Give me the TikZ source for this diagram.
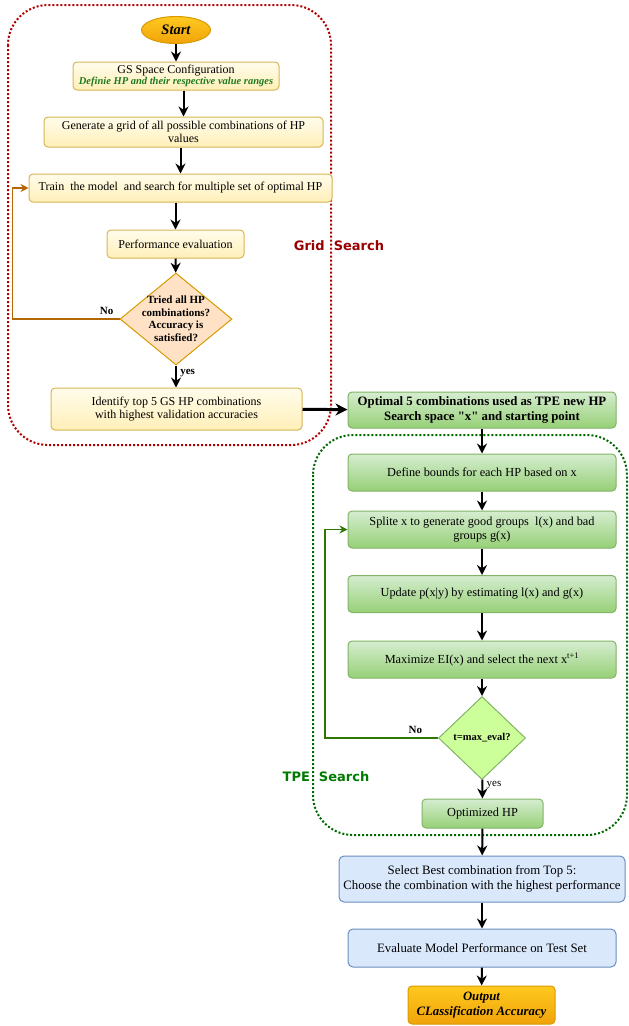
\documentclass[tikz,border=0pt]{standalone}
\usepackage{fontspec}
\setmainfont{Liberation Serif}
\newfontfamily\tagfont{DejaVu Sans}
\usetikzlibrary{shapes.geometric,arrows.meta}
\definecolor{gsline}{HTML}{D6B656}
\definecolor{gstop}{HTML}{FFFCEB}
\definecolor{gsbot}{HTML}{FFEFB8}
\definecolor{gold}{HTML}{FFC91F}
\definecolor{amber}{HTML}{F0A30A}
\definecolor{amberline}{HTML}{D79B00}
\definecolor{peach}{HTML}{FFE2C6}
\definecolor{rust}{HTML}{B46504}
\definecolor{crimson}{HTML}{B20000}
\definecolor{maroon}{HTML}{990000}
\definecolor{leaftop}{HTML}{D5EDD0}
\definecolor{leafbot}{HTML}{97D077}
\definecolor{leafline}{HTML}{82B366}
\definecolor{lime}{HTML}{CCFF99}
\definecolor{forest}{HTML}{2D7600}
\definecolor{pine}{HTML}{006600}
\definecolor{tpetext}{HTML}{007A00}
\definecolor{skyfill}{HTML}{DAE8FC}
\definecolor{skyline}{HTML}{6C8EBF}
\definecolor{hintgreen}{HTML}{1E7B1E}

\tikzset{
  boxtext/.style={font=\fontsize{12}{13.5}\selectfont, align=center, inner sep=1},
  gsbox/.style={boxtext, draw=gsline, top color=gstop, bottom color=gsbot, rounded corners=4, line width=1},
  tpebox/.style={boxtext, draw=leafline, top color=leaftop, bottom color=leafbot, rounded corners=4, line width=1, font=\fontsize{12.3}{14}\selectfont},
  endbox/.style={boxtext, draw=skyline, fill=skyfill, rounded corners=5, line width=1, font=\fontsize{12.8}{14.5}\selectfont},
  goldbox/.style={boxtext, draw=amberline, top color=gold, bottom color=amber, line width=1, font=\fontsize{12.8}{14.5}\selectfont\bfseries\itshape},
  decision/.style={diamond, draw, line width=1, inner sep=0},
  frame/.style={dotted, line width=2, rounded corners=40},
  flow/.style={-{Stealth[length=10,width=10]}, line width=2},
  tag/.style={font=\tagfont\bfseries\fontsize{13}{15}\selectfont},
}

\begin{document}
\begin{tikzpicture}[x=1pt,y=-1pt]
\useasboundingbox (0,0) rectangle (629,1026);

% containers
\draw[frame, crimson] (8,5) rectangle (331,445);
\draw[frame, pine]    (313,435) rectangle (627,835);
\node[tag, maroon]  (gslabel)  at (339,246) {Grid~~Search};
\node[tag, tpetext] (tpelabel) at (326,777) {TPE~~Search};

% grid search
\node[goldbox, ellipse, minimum width=69, minimum height=27, font=\fontsize{14.5}{16}\selectfont\bfseries\itshape] (start) at (176,30) {Start};
\node[gsbox, minimum width=206, minimum height=28] (gsconf) at (176,76) {GS Space Configuration\\[-2pt]{\color{hintgreen}\fontsize{10.5}{11}\selectfont\bfseries\itshape Definie HP and their respective value ranges}};
\node[gsbox, minimum width=279, minimum height=30] (grid) at (183.5,132) {Generate a grid of all possible combinations of HP\\values};
\node[gsbox, minimum width=303, minimum height=28] (train) at (180.5,188) {Train~ the model~ and search for multiple set of optimal HP};
\node[gsbox, minimum width=137, minimum height=28] (perf) at (175.5,244) {Performance evaluation};
\node[decision, draw=amberline, fill=peach, minimum width=112, minimum height=92,
      label={[boxtext, font=\fontsize{11}{12.5}\selectfont\bfseries]center:Tried all HP\\combinations?\\Accuracy is\\satisfied?}] (check) at (176,319) {};
\node[gsbox, minimum width=251, minimum height=42] (top5) at (176.5,409) {Identify top 5 GS HP combinations\\with highest validation accuracies};

% tpe search
\node[tpebox, minimum width=268, minimum height=36, font=\fontsize{12.8}{14.5}\selectfont\bfseries] (optimal) at (482,410) {Optimal 5 combinations used as TPE new HP\\Search space \textquotedbl x\textquotedbl{} and starting point};
\node[tpebox, minimum width=268, minimum height=37] (bounds) at (482,472.5) {Define bounds for each HP based on x};
\node[tpebox, minimum width=268, minimum height=37] (splite) at (482,529.5) {Splite x to generate good groups~ l(x) and bad\\groups g(x)};
\node[tpebox, minimum width=268, minimum height=37] (update) at (482,594) {Update p(x|y) by estimating l(x) and g(x)};
\node[tpebox, minimum width=268, minimum height=37] (maxei) at (482,659.5) {Maximize EI(x) and select the next x\textsuperscript{t+1}};
\node[decision, draw=leafline, fill=lime, minimum width=87, minimum height=83,
      label={[boxtext, font=\fontsize{10.5}{12}\selectfont\bfseries]center:t=max\_eval?}] (tcheck) at (482,738) {};
\node[tpebox, minimum width=121, minimum height=29] (optimized) at (482.5,813.5) {Optimized HP};

% final steps
\node[endbox, minimum width=286, minimum height=46] (select) at (482,879) {Select Best combination from Top 5:\\Choose the combination with the highest performance};
\node[endbox, minimum width=268, minimum height=38] (evaluate) at (482,948) {Evaluate Model Performance on Test Set};
\node[goldbox, rounded corners=4, minimum width=147, minimum height=38] (output) at (481.5,1005) {Output\\CLassification Accuracy};

% connectors
\draw[flow] (start) -- (gsconf);
\draw[flow] (gsconf.south -| grid) -- (grid);
\draw[flow] (grid.south -| train) -- (train);
\draw[flow] (train.south -| perf) -- (perf);
\draw[flow] (perf) -- (check);
\draw[flow] (check) -- node[pos=0.35, right, font=\fontsize{11}{12}\selectfont\bfseries] {yes} (top5.north -| check);
\draw[-{Stealth[length=8,width=8]}, line width=1.5, rust] (check.west) -- node[pos=0.12, above, black, font=\fontsize{11}{12}\selectfont\bfseries] {No} ++(-107,0) |- (train.west);
\draw[-{Stealth[length=12,width=12]}, line width=3] (top5) -- (optimal);
\draw[flow] (optimal) -- (bounds);
\draw[flow] (bounds) -- (splite);
\draw[flow] (splite) -- (update);
\draw[flow] (update) -- (maxei);
\draw[flow] (maxei) -- (tcheck);
\draw[flow] (tcheck) -- node[pos=0.3, right, font=\fontsize{11}{12}\selectfont] {yes} (optimized);
\draw[-{Stealth[length=8,width=8]}, line width=1.5, forest] (tcheck.west) -- node[pos=0.2, above, black, font=\fontsize{11}{12}\selectfont\bfseries] {No} ++(-113,0) |- (splite.west);
\draw[flow] (optimized) -- (select);
\draw[flow] (select) -- (evaluate);
\draw[flow] (evaluate) -- (output);
\end{tikzpicture}
\end{document}
